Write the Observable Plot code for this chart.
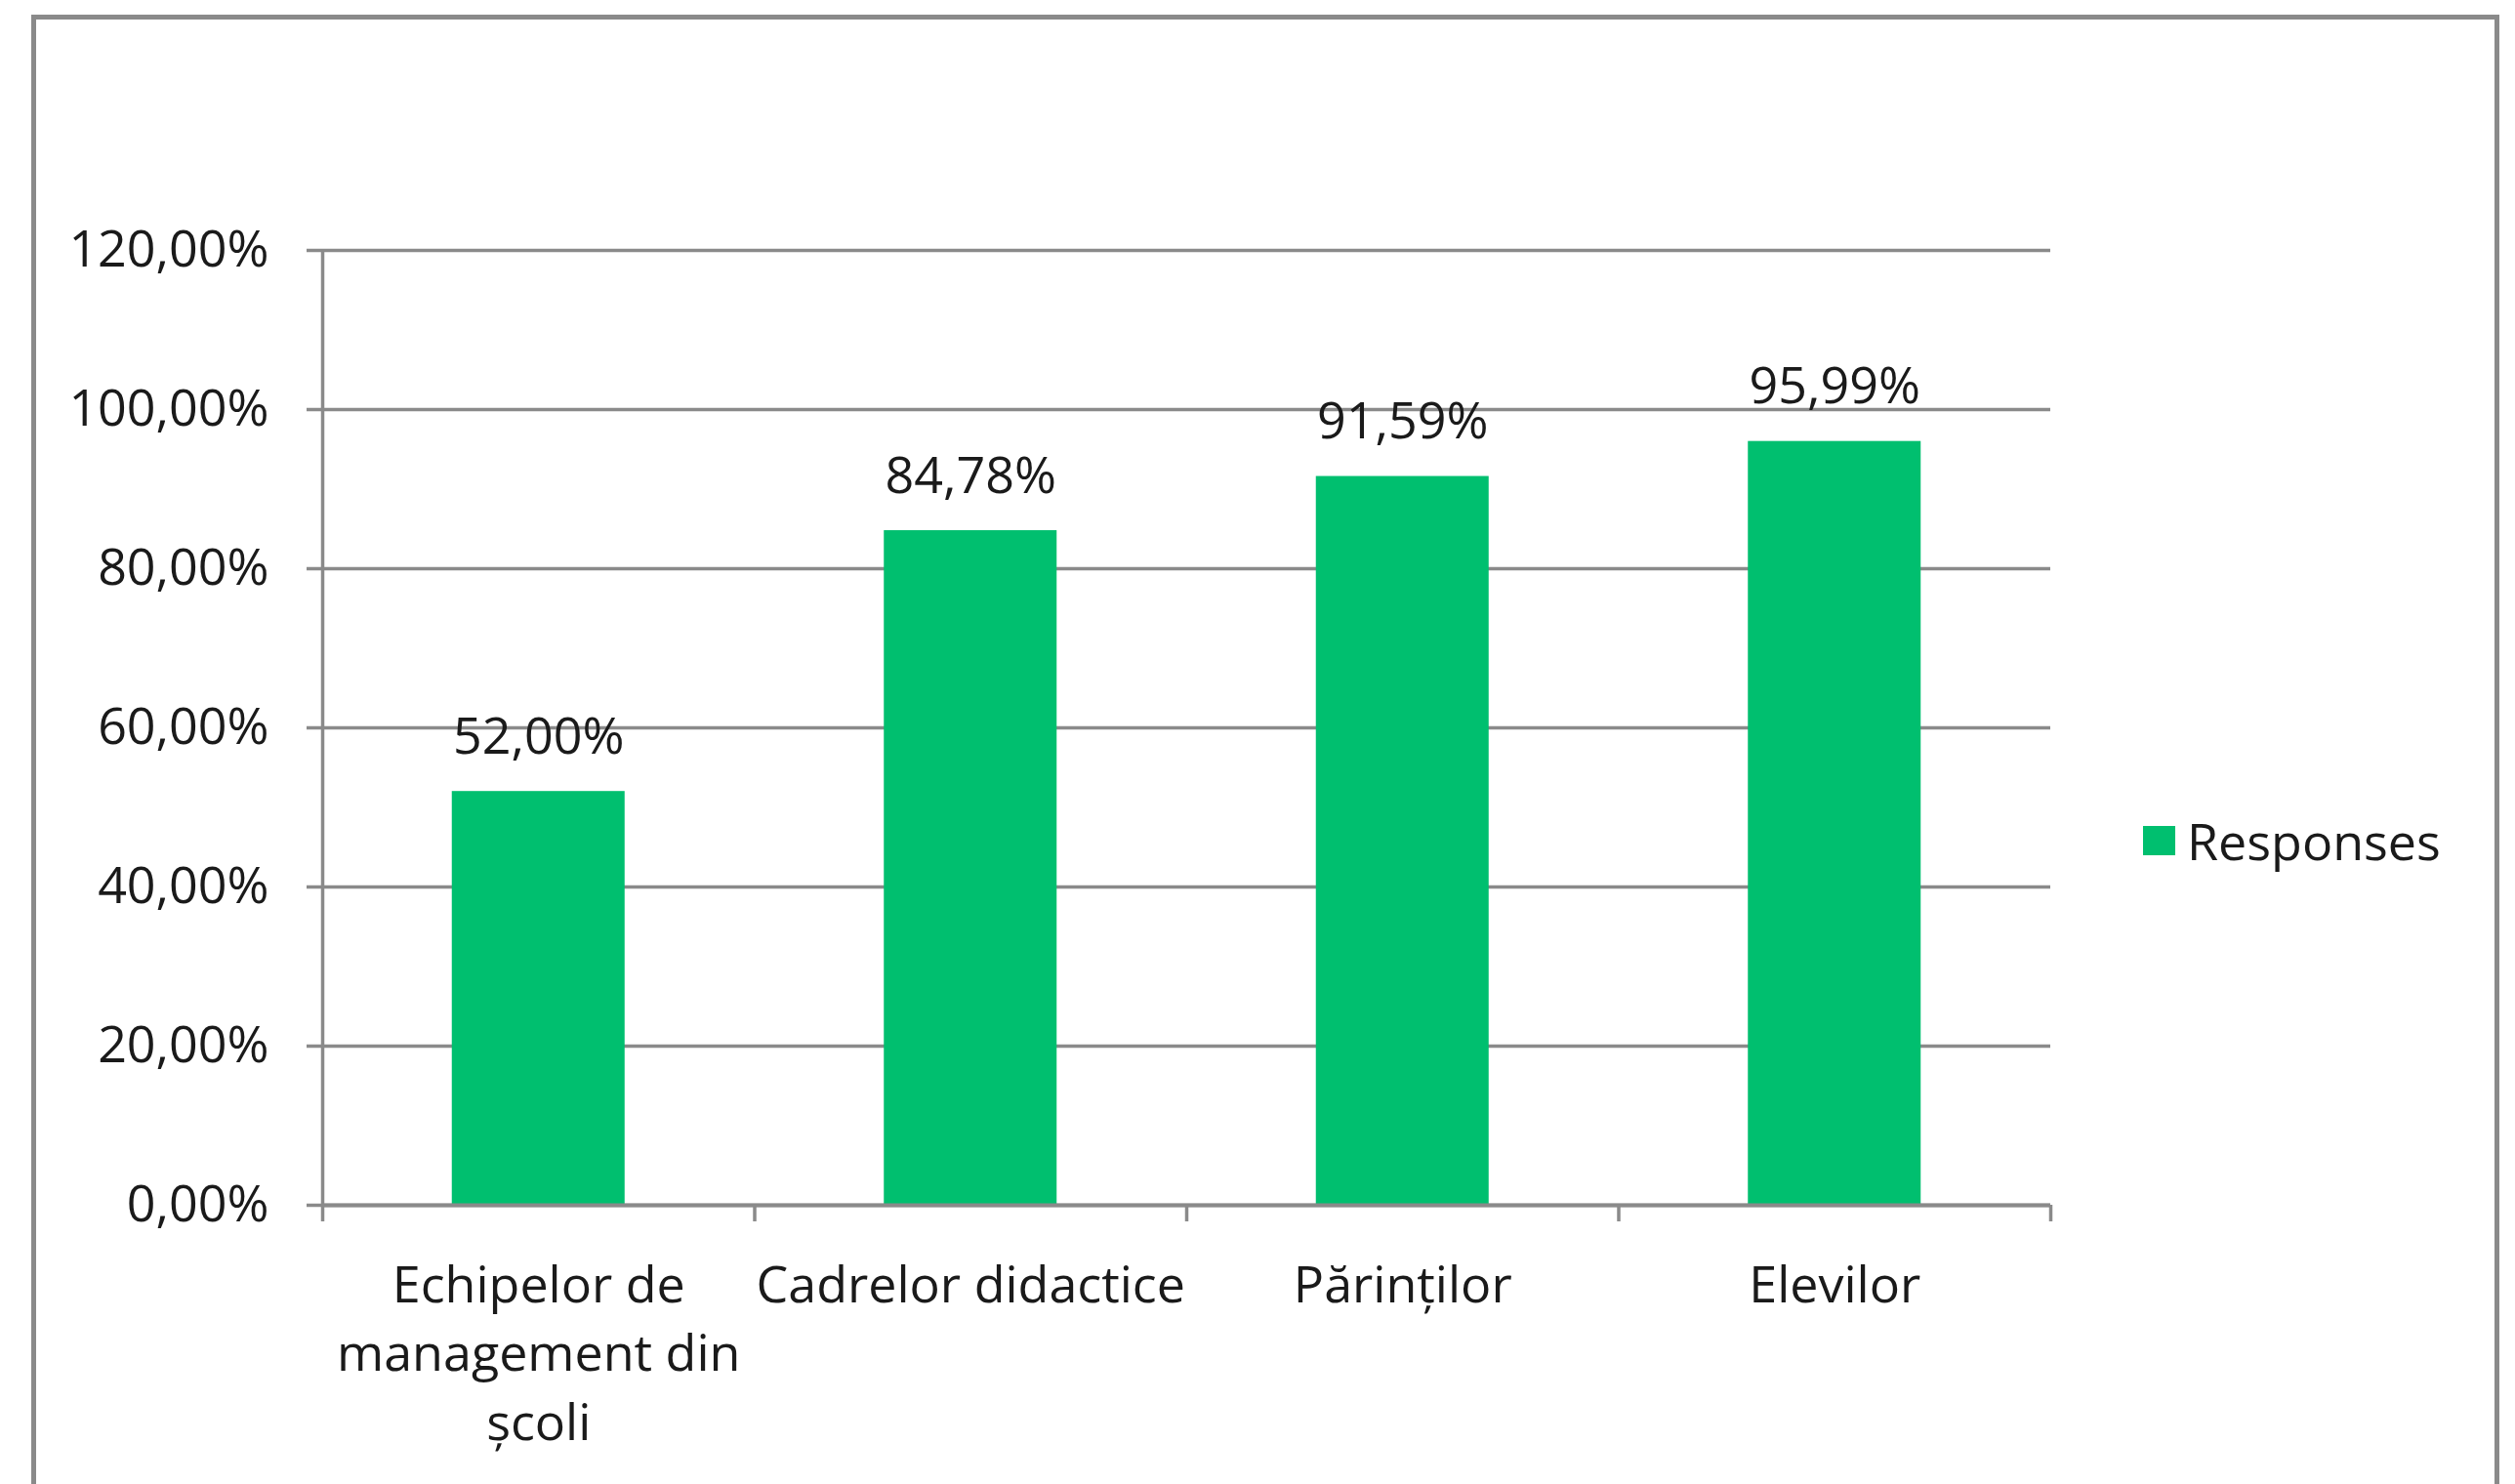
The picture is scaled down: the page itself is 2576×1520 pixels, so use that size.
<!DOCTYPE html>
<html>
<head>
<meta charset="utf-8">
<script src="https://cdn.jsdelivr.net/npm/d3@7"></script>
<script src="https://cdn.jsdelivr.net/npm/@observablehq/plot@0.6"></script>
<style>
  html, body { margin: 0; padding: 0; background: #fff; width: 2576px; height: 1520px; overflow: hidden; }
  #frame { position: absolute; left: 32px; top: 15px; width: 2528px; height: 1600px; border: 5px solid #8a8a8a; box-sizing: border-box; }
  #chart { position: absolute; left: 0; top: 0; }
  #legend { position: absolute; left: 2195px; top: 825px; display: flex; align-items: center; font-family: "Open Sans", sans-serif; font-size: 52px; color: #1a1a1a; }
  #legend .sw { width: 33px; height: 30px; margin-right: 12px; }
</style>
</head>
<body>
<div id="frame"></div>
<div id="chart"></div>
<div id="legend"></div>
<script>
const categories = ["Echipelor de\nmanagement din\nșcoli", "Cadrelor didactice", "Părinților", "Elevilor"];
const values = [0.52, 0.8478, 0.9159, 0.9599];
const valueLabels = ["52,00%", "84,78%", "91,59%", "95,99%"];
const yTicks = [0, 0.2, 0.4, 0.6, 0.8, 1.0, 1.2];
const seriesName = "Responses";
const barColor = "#00bf6f";

const data = categories.map((c, i) => ({c, i, v: values[i], label: valueLabels[i]}));
const fmt = d => (d * 100).toFixed(2).replace(".", ",") + "%";
const gridColor = "#8a8a8a";

const chart = Plot.plot({
  width: 2576,
  height: 1520,
  marginLeft: 330,
  marginRight: 476,
  marginTop: 256,
  marginBottom: 286,
  x: {type: "linear", domain: [0, categories.length], axis: null, label: null},
  y: {domain: [0, 1.2], axis: null, label: null},
  style: {fontFamily: "'Open Sans', sans-serif", fontSize: "52px", color: "#1a1a1a", background: "transparent"},
  marks: [
    Plot.ruleY(yTicks, {stroke: gridColor, strokeWidth: 3.5, strokeOpacity: 1}),
    Plot.rectY(data, {x1: d => d.i + 0.3, x2: d => d.i + 0.7, y: "v", fill: barColor}),
    Plot.axisY({ticks: yTicks, tickSize: 16, tickPadding: 39, tickFormat: fmt, label: null, stroke: gridColor, strokeWidth: 3.5, strokeOpacity: 1, fontSize: 52}),
    Plot.ruleX([0], {y1: 0, y2: 1.2, stroke: gridColor, strokeWidth: 3.5}),
    Plot.ruleY([0], {stroke: gridColor, strokeWidth: 4}),
    Plot.axisX({ticks: d3.range(categories.length + 1), tickSize: 17, tickFormat: () => "", label: null, stroke: gridColor, strokeWidth: 3.5, strokeOpacity: 1}),
    Plot.text(data, {x: d => d.i + 0.5, y: "v", text: "label", lineAnchor: "bottom", dy: -39, fontSize: 52}),
    Plot.text(data, {x: d => d.i + 0.5, y: () => 0, text: "c", lineAnchor: "top", dy: 49, lineHeight: 1.36, fontSize: 52})
  ]
});
document.getElementById("chart").appendChild(chart);

const legend = document.getElementById("legend");
const sw = document.createElement("div");
sw.className = "sw";
sw.style.background = barColor;
const lab = document.createElement("span");
lab.textContent = seriesName;
legend.appendChild(sw);
legend.appendChild(lab);
</script>
</body>
</html>
